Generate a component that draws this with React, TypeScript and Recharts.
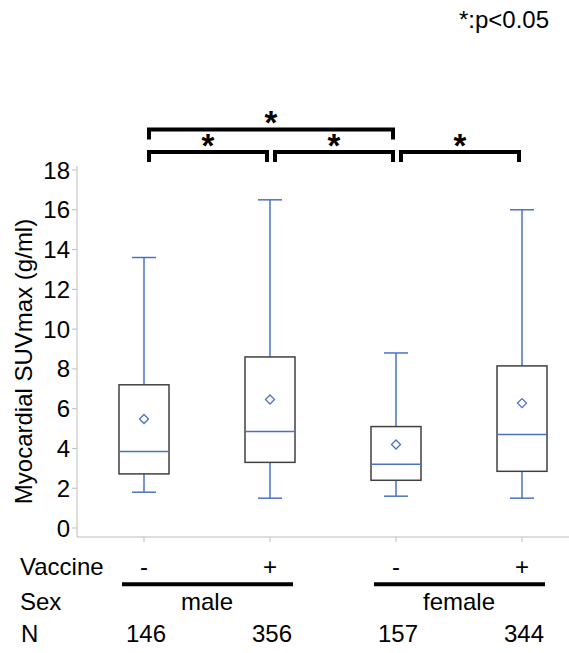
import React from "react";
import { ComposedChart, Bar, Scatter, XAxis, YAxis, Label } from "recharts";

// groups, left to right
const groups = ["male -", "male +", "female -", "female +"];
const vaccine = ["-", "+", "-", "+"];
const sexes = ["male", "female"];
const counts = [146, 356, 157, 344];

// box plot statistics (g/ml)
const mins = [1.8, 1.5, 1.6, 1.5];
const q1s = [2.72, 3.3, 2.4, 2.85];
const medians = [3.85, 4.85, 3.2, 4.7];
const q3s = [7.2, 8.6, 5.1, 8.15];
const maxs = [13.6, 16.5, 8.8, 16.0];
const means = [5.48, 6.46, 4.2, 6.28];

const yTicks = [0, 2, 4, 6, 8, 10, 12, 14, 16, 18];

// significant pairs (group indices), level 1 sits above level 0
const brackets = [
  { from: 0, to: 1, level: 0 },
  { from: 1, to: 2, level: 0 },
  { from: 2, to: 3, level: 0 },
  { from: 0, to: 2, level: 1 },
];

const data = groups.map((g, i) => ({
  group: g,
  box: [q1s[i], q3s[i]],
  min: mins[i],
  q1: q1s[i],
  median: medians[i],
  q3: q3s[i],
  max: maxs[i],
  mean: means[i],
}));

const W = 569;
const H = 653;
const PLOT_LEFT = 77;
const PAD_LEFT = 4;
const BAND = 126;
const PAD_RIGHT = W - PLOT_LEFT - PAD_LEFT - BAND * groups.length;
const FONT = "'Liberation Sans', Arial, sans-serif";
const BLUE = "#4a72c4";
const AXIS = "#bdbdbd";

const center = (i: number) => PLOT_LEFT + PAD_LEFT + BAND * (i + 0.5);

const BoxShape = (props: any) => {
  const { x, y, width, height, payload } = props;
  const k = height / (payload.q3 - payload.q1);
  const cx = x + width / 2;
  const yOf = (v: number) => y + (payload.q3 - v) * k;
  const cap = 12;
  return (
    <g>
      <line x1={cx} x2={cx} y1={yOf(payload.q3)} y2={yOf(payload.max)} stroke={BLUE} strokeWidth={1.5} />
      <line x1={cx - cap} x2={cx + cap} y1={yOf(payload.max)} y2={yOf(payload.max)} stroke={BLUE} strokeWidth={1.5} />
      <line x1={cx} x2={cx} y1={yOf(payload.q1)} y2={yOf(payload.min)} stroke={BLUE} strokeWidth={1.5} />
      <line x1={cx - cap} x2={cx + cap} y1={yOf(payload.min)} y2={yOf(payload.min)} stroke={BLUE} strokeWidth={1.5} />
      <rect x={x} y={y} width={width} height={height} fill="none" stroke="#404040" strokeWidth={1.5} />
      <line x1={x} x2={x + width} y1={yOf(payload.median)} y2={yOf(payload.median)} stroke={BLUE} strokeWidth={1.5} />
    </g>
  );
};

const Diamond = (props: any) => {
  const { cx, cy } = props;
  const r = 4.5;
  return (
    <path
      d={`M${cx},${cy - r}L${cx + r},${cy}L${cx},${cy + r}L${cx - r},${cy}Z`}
      fill="#fff"
      stroke={BLUE}
      strokeWidth={1.3}
    />
  );
};

const YLabel = (props: any) => {
  const { viewBox } = props;
  const x = viewBox.x + 32;
  const y = viewBox.y + viewBox.height / 2 + 10;
  return (
    <text
      x={x}
      y={y}
      transform={`rotate(-90, ${x}, ${y})`}
      textAnchor="middle"
      fontSize={24}
      fontFamily={FONT}
      fill="#000"
    >
      Myocardial SUVmax (g/ml)
    </text>
  );
};

const Annotations = () => (
  <svg width={W} height={H} style={{ position: "absolute", left: 0, top: 0, pointerEvents: "none" }}>
    <text x={549} y={28} textAnchor="end" fontSize={24} fontFamily={FONT} fill="#000">
      *:p&lt;0.05
    </text>
    {brackets.map((b, i) => {
      const top = b.level === 0 ? 150 : 127.5;
      const x1 = center(b.from) + 3;
      const x2 = center(b.to) - 1;
      return (
        <g key={`br-${i}`}>
          <path
            d={`M${x1 + 2},${top + 12}V${top + 2}H${x2 - 2}V${top + 12}`}
            fill="none"
            stroke="#000"
            strokeWidth={4}
          />
          <text
            x={(x1 + x2) / 2}
            y={top + 6.5}
            textAnchor="middle"
            fontSize={33}
            fontWeight="bold"
            fontFamily={FONT}
            fill="#000"
          >
            *
          </text>
        </g>
      );
    })}
    <g fontFamily={FONT} fontSize={24} fill="#000">
      <text x={20} y={575}>Vaccine</text>
      <text x={20} y={610}>Sex</text>
      <text x={21} y={642}>N</text>
      {vaccine.map((v, i) => (
        <text key={`v-${i}`} x={center(i)} y={575} textAnchor="middle">
          {v}
        </text>
      ))}
      {sexes.map((s, j) => {
        const mid = (center(2 * j) + center(2 * j + 1)) / 2;
        return (
          <g key={`s-${j}`}>
            <line x1={mid - 85} x2={mid + 86} y1={584.3} y2={584.3} stroke="#000" strokeWidth={4} />
            <text x={mid} y={610} textAnchor="middle">
              {s}
            </text>
          </g>
        );
      })}
      {counts.map((n, i) => (
        <text key={`n-${i}`} x={center(i) + 2} y={642} textAnchor="middle">
          {n}
        </text>
      ))}
    </g>
  </svg>
);

export default function App() {
  return (
    <div style={{ position: "absolute", left: 0, top: 0, width: W, height: H, background: "#fff" }}>
      <ComposedChart
        width={W}
        height={H}
        data={data}
        margin={{ top: 166, right: 0, bottom: 106, left: 0 }}
      >
        <XAxis
          dataKey="group"
          height={10}
          tickSize={5}
          tickFormatter={() => ""}
          stroke={AXIS}
          padding={{ left: PAD_LEFT, right: PAD_RIGHT }}
        />
        <YAxis
          type="number"
          domain={[0, 18]}
          ticks={yTicks}
          interval={0}
          width={PLOT_LEFT}
          tickSize={5}
          stroke={AXIS}
          padding={{ top: 4, bottom: 9 }}
          tick={{ fill: "#000", fontSize: 24, fontFamily: FONT }}
        >
          <Label content={YLabel} />
        </YAxis>
        <Bar dataKey="box" barSize={50} shape={BoxShape} isAnimationActive={false} />
        <Scatter dataKey="mean" shape={Diamond} isAnimationActive={false} />
      </ComposedChart>
      <Annotations />
    </div>
  );
}
